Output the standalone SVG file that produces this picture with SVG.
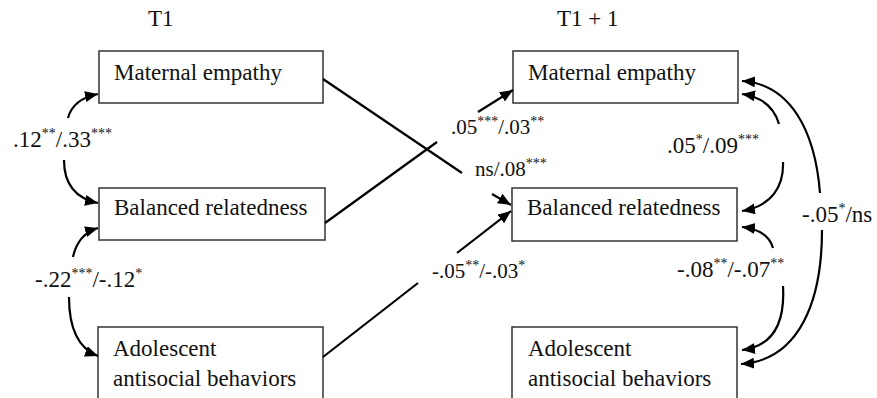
<svg xmlns="http://www.w3.org/2000/svg" width="877" height="398" viewBox="0 0 877 398">
<style>
text{font-family:"Liberation Serif","Times New Roman",serif;fill:#111;}
.lbl{font-size:23px;}
.mid{font-size:21px;}
.sup{font-size:14px;}
.box{fill:#fff;stroke:#333;stroke-width:1.5;}
.c{fill:none;stroke:#000;stroke-width:2.2;}
.a{marker-end:url(#ah);}
</style>
<defs>
<marker id="ah" markerUnits="userSpaceOnUse" markerWidth="14" markerHeight="12" refX="13" refY="5.5" orient="auto">
<path d="M0,0 L13,5.5 L0,11 Z" fill="#000"/>
</marker>
</defs>

<text x="148" y="26" class="lbl" font-size="22">T1</text>
<text x="557" y="26" class="lbl" font-size="22">T1 + 1</text>

<g id="n-me1"><rect class="box" x="99" y="51" width="224" height="52"/><text class="lbl" x="114" y="80">Maternal empathy</text></g>
<g id="n-br1"><rect class="box" x="99" y="188" width="226" height="52"/><text class="lbl" x="114" y="215">Balanced relatedness</text></g>
<g id="n-ab1"><rect class="box" x="98" y="327" width="225" height="90"/><text class="lbl" x="113" y="356">Adolescent</text><text class="lbl" x="113" y="386">antisocial behaviors</text></g>

<g id="n-me2"><rect class="box" x="513" y="51" width="225" height="52"/><text class="lbl" x="528" y="80">Maternal empathy</text></g>
<g id="n-br2"><rect class="box" x="512" y="188" width="225" height="53"/><text class="lbl" x="527" y="215">Balanced relatedness</text></g>
<g id="n-ab2"><rect class="box" x="512" y="327" width="225" height="90"/><text class="lbl" x="528" y="356">Adolescent</text><text class="lbl" x="528" y="386">antisocial behaviors</text></g>

<g id="connectors">
<path class="c a" d="M68 118 Q73 99 98 94"/>
<path class="c a" d="M64 160 Q64 196 98 203"/>
<path class="c a" d="M73 257 Q78 234 98 228"/>
<path class="c a" d="M69 297 Q69 345 98 356"/>
<path class="c" d="M323 79 L462 173"/>
<path class="c a" d="M492 194 L511 205"/>
<path class="c" d="M325 223 L437 142"/>
<path class="c a" d="M478 112 L513 90"/>
<path class="c" d="M323 357 L418 283"/>
<path class="c a" d="M457 253 L511 211"/>
<path class="c a" d="M779 124 C774 107 762 97 742 94"/>
<path class="c a" d="M783 162 C784 186 772 206 742 211"/>
<path class="c a" d="M820 193 C815 130 790 84 742 81"/>
<path class="c a" d="M822 230 C822 300 800 360 741 364"/>
<path class="c a" d="M773 248 Q768 230 742 227"/>
<path class="c a" d="M783 286 C785 320 775 346 742 350"/>
</g>

<g id="labels">
<text class="lbl" x="13" y="147">.12<tspan class="sup" dy="-9">**</tspan><tspan dy="9">/.33</tspan><tspan class="sup" dy="-9">***</tspan></text>
<text class="lbl" x="35" y="287">-.22<tspan class="sup" dy="-9">***</tspan><tspan dy="9">/-.12</tspan><tspan class="sup" dy="-9">*</tspan></text>
<text class="mid" x="451" y="134">.05<tspan class="sup" dy="-8">***</tspan><tspan dy="8">/.03</tspan><tspan class="sup" dy="-8">**</tspan></text>
<text class="mid" x="475" y="176">ns/.08<tspan class="sup" dy="-8">***</tspan></text>
<text class="mid" x="432" y="278">-.05<tspan class="sup" dy="-8">**</tspan><tspan dy="8">/-.03</tspan><tspan class="sup" dy="-8">*</tspan></text>
<text class="lbl" x="667" y="153">.05<tspan class="sup" dy="-9">*</tspan><tspan dy="9">/.09</tspan><tspan class="sup" dy="-9">***</tspan></text>
<text class="lbl" x="677" y="277">-.08<tspan class="sup" dy="-9">**</tspan><tspan dy="9">/-.07</tspan><tspan class="sup" dy="-9">**</tspan></text>
<text class="lbl" x="802" y="222">-.05<tspan class="sup" dy="-9">*</tspan><tspan dy="9">/ns</tspan></text>
</g>
</svg>
